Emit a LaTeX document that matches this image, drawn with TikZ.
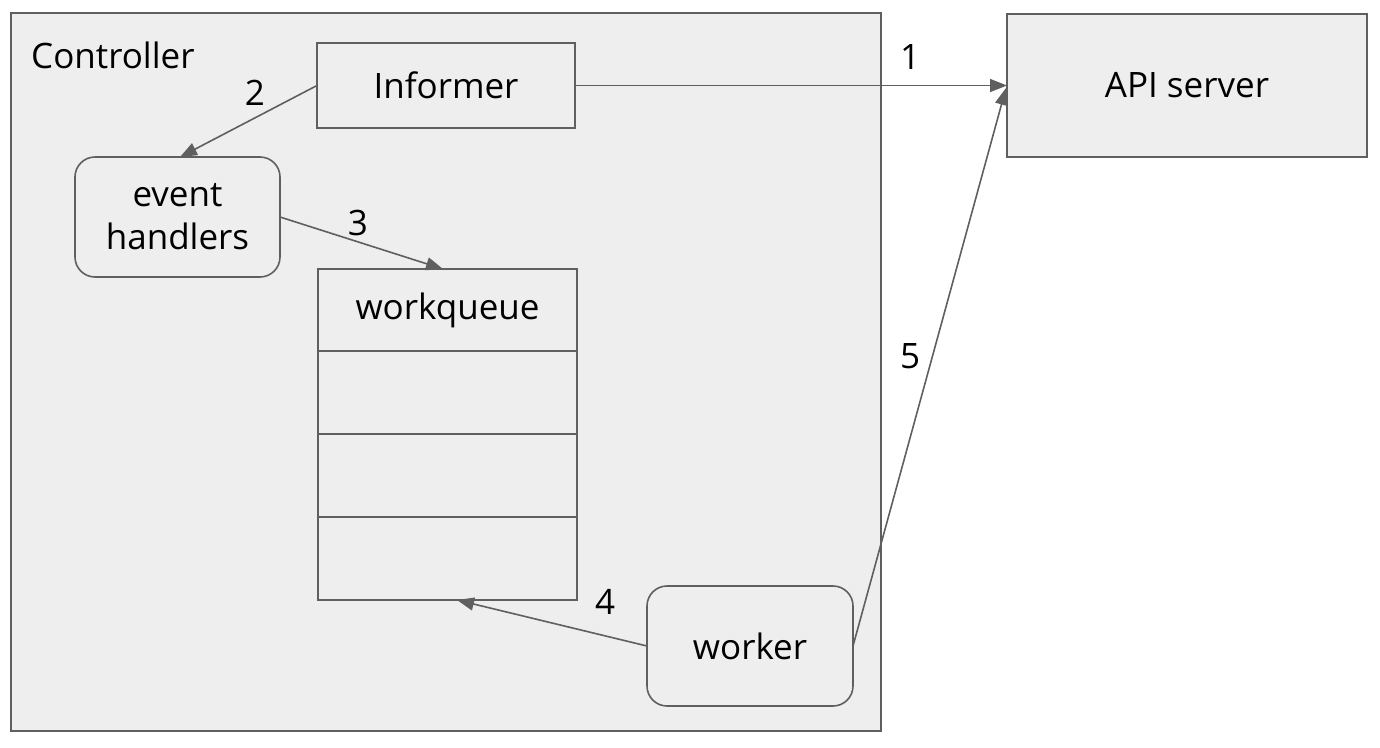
\documentclass[tikz,border=0pt]{standalone}
\usepackage{fontspec}
\setmainfont{Open Sans}
\usetikzlibrary{arrows.meta}
\definecolor{boxfill}{HTML}{EEEEEE}
\definecolor{edge}{HTML}{5F5F5F}
\tikzset{
  box/.style={draw=edge, fill=boxfill, line width=1.6pt, inner sep=0pt, outer sep=0pt},
  roundbox/.style={box, rounded corners=20pt},
  lbl/.style={font=\fontsize{35}{43}\selectfont, text=black, inner sep=0pt},
  conn/.style={draw=edge, line width=1.6pt, -{Triangle[length=17pt,width=13pt]}},
}
\begin{document}
\begin{tikzpicture}[x=1pt,y=-1pt]
\useasboundingbox (0,0) rectangle (1380,747);
% Controller
\draw[box] (11,13) rectangle (881,731);
\node[lbl, anchor=base west] (ctl) at (31,68) {Controller};
% Informer
\node[box, minimum width=258pt, minimum height=85pt, lbl] (inf) at (446,85.5) {Informer};
% API server
\node[box, minimum width=360pt, minimum height=143pt, lbl] (api) at (1187,85.5) {API server};
% event handlers
\node[roundbox, minimum width=205pt, minimum height=120pt, lbl, align=center] (eh) at (177.5,217) {event\\handlers};
% workqueue
\node[box, minimum width=259pt, minimum height=82pt, lbl] (wq0) at (447.5,310) {workqueue};
\node[box, minimum width=259pt, minimum height=83pt, anchor=north] (wq1) at (wq0.south) {};
\node[box, minimum width=259pt, minimum height=83pt, anchor=north] (wq2) at (wq1.south) {};
\node[box, minimum width=259pt, minimum height=83pt, anchor=north] (wq3) at (wq2.south) {};
% worker
\node[roundbox, minimum width=206pt, minimum height=120pt, lbl] (wk) at (750,646) {worker};
% connectors
\draw[conn] (inf.east) -- (api.west |- inf.east);
\draw[conn] (inf.west) -- (180,157);
\draw[conn] (eh.east) -- (443,269);
\draw[conn] (wk.west) -- (457,600);
\draw[conn] (wk.east) -- (1006,88);
% labels
\node[lbl] (n1) at (910,57) {1};
\node[lbl] (n2) at (255,93) {2};
\node[lbl] (n3) at (358,223) {3};
\node[lbl] (n4) at (605,602) {4};
\node[lbl] (n5) at (910,356) {5};
\end{tikzpicture}
\end{document}
